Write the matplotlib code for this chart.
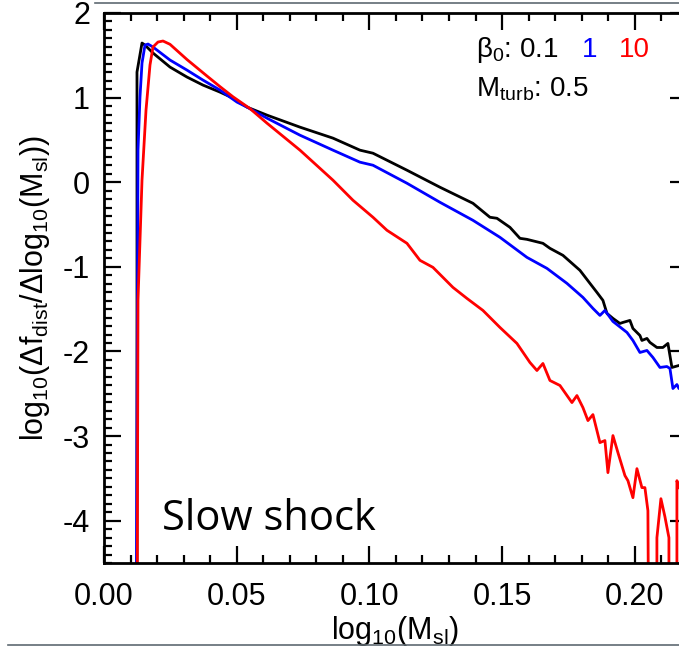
import matplotlib
matplotlib.use("Agg")
import matplotlib.pyplot as plt
from matplotlib.lines import Line2D
from matplotlib.ticker import MultipleLocator

plt.rcParams['font.family'] = ['Liberation Sans', 'DejaVu Sans']
plt.rcParams['mathtext.fontset'] = 'custom'
plt.rcParams['mathtext.rm'] = 'Liberation Sans'
plt.rcParams['mathtext.it'] = 'Liberation Sans'
plt.rcParams['mathtext.default'] = 'regular'
plt.rcParams['axes.unicode_minus'] = False

# beta0 = 0.1 (black)
x_b01 = [0.01243, 0.01243, 0.01432, 0.01545, 0.01846, 0.02487, 0.03127, 0.0373, 0.04371, 0.0486,
         0.05388, 0.06142, 0.07385, 0.08629, 0.09646, 0.10136, 0.11417, 0.1266, 0.13904, 0.14544,
         0.14808, 0.15298, 0.15675, 0.15938, 0.16541, 0.16805, 0.17295, 0.17935, 0.18312, 0.18576,
         0.18802, 0.18953, 0.19179, 0.19442, 0.19556, 0.19819, 0.19932, 0.20196, 0.20271, 0.2046,
         0.20573, 0.20836, 0.21062, 0.21251, 0.21402, 0.21665, 0.2197]
y_b01 = [-6.0, 1.302, 1.645, 1.621, 1.527, 1.361, 1.243, 1.148, 1.065, 0.994,
         0.888, 0.793, 0.651, 0.521, 0.379, 0.343, 0.142, -0.059, -0.249, -0.414,
         -0.426, -0.533, -0.663, -0.675, -0.722, -0.781, -0.864, -1.041, -1.195, -1.302,
         -1.396, -1.550, -1.609, -1.669, -1.657, -1.633, -1.728, -1.811, -1.870, -1.846,
         -1.893, -1.953, -1.953, -1.905, -2.189, -2.166, -2.17]

# beta0 = 1 (blue)
x_b1 = [0.01206, 0.01281, 0.01356, 0.01432, 0.01545, 0.01658, 0.01846, 0.02487, 0.03127, 0.0373,
        0.04371, 0.05011, 0.05388, 0.06142, 0.07385, 0.08629, 0.09646, 0.10136, 0.11417, 0.1266,
        0.13904, 0.14921, 0.15938, 0.16692, 0.17445, 0.18048, 0.18425, 0.18689, 0.18877, 0.19179,
        0.19707, 0.19932, 0.20196, 0.2046, 0.20686, 0.2095, 0.21213, 0.21327, 0.2144, 0.2159,
        0.21665, 0.2197]
y_b1 = [-6.0, 0.379, 1.006, 1.408, 1.621, 1.633, 1.598, 1.444, 1.325, 1.207,
        1.089, 0.947, 0.888, 0.757, 0.556, 0.379, 0.237, 0.201, -0.012, -0.237,
        -0.450, -0.651, -0.888, -1.018, -1.195, -1.361, -1.491, -1.574, -1.515, -1.645,
        -1.775, -1.870, -2.012, -1.988, -2.071, -2.189, -2.178, -2.201, -2.438, -2.391,
        -2.438, -2.44]

# beta0 = 10 (red)
x_b10 = [0.01243, 0.01281, 0.01432, 0.01583, 0.01733, 0.01846, 0.02035, 0.02223, 0.02487, 0.03127,
         0.03881, 0.04371, 0.0486, 0.05501, 0.06142, 0.07385, 0.08629, 0.09382, 0.10136, 0.10663,
         0.11417, 0.11907, 0.12396, 0.1315, 0.13677, 0.1428, 0.14921, 0.15561, 0.16051, 0.16315,
         0.16541, 0.16805, 0.17182, 0.17634, 0.17822, 0.18048, 0.18237, 0.18425, 0.18689, 0.18877,
         0.1899, 0.19179, 0.19367, 0.19631, 0.19744, 0.19932, 0.20083, 0.20271, 0.20384, 0.20497,
         0.20535, 0.20836, 0.20836, 0.20987, 0.21138, 0.21289, 0.21289, 0.2159, 0.2159, 0.21665]
y_b10 = [-6.0, -1.396, 0.024, 0.852, 1.385, 1.598, 1.657, 1.669, 1.630, 1.450,
         1.255, 1.130, 1.010, 0.870, 0.698, 0.379, 0.024, -0.213, -0.414, -0.568,
         -0.722, -0.923, -1.006, -1.243, -1.373, -1.515, -1.716, -1.905, -2.130, -2.225,
         -2.142, -2.343, -2.402, -2.604, -2.521, -2.663, -2.817, -2.746, -3.077, -3.053,
         -3.432, -2.994, -3.195, -3.467, -3.527, -3.728, -3.385, -3.609, -3.609, -3.882,
         -6.0, -6.0, -4.201, -3.740, -3.953, -4.201, -6.0, -6.0, -3.527, -3.609]

xticks = [0.00, 0.05, 0.10, 0.15, 0.20]
xticklabels = ['0.00', '0.05', '0.10', '0.15', '0.20']
yticks = [-4, -3, -2, -1, 0, 1, 2]
yticklabels = ['-4', '-3', '-2', '-1', '0', '1', '2']

W, H = 679, 653
fig = plt.figure(figsize=(W / 100, H / 100), dpi=100)
ax = fig.add_axes([104 / W, 90 / H, 583 / W, 550 / H])

ax.plot(x_b01, y_b01, color='black', lw=2.0)
ax.plot(x_b1, y_b1, color='#0000ff', lw=2.0)
ax.plot(x_b10, y_b10, color='#ff0000', lw=2.0)

ax.set_xlim(0.0, 0.2197)
ax.set_ylim(-4.5, 2.0)
ax.set_xticks(xticks)
ax.set_xticklabels(xticklabels)
ax.set_yticks(yticks)
ax.set_yticklabels(yticklabels)
ax.xaxis.set_minor_locator(MultipleLocator(0.01))
ax.yaxis.set_minor_locator(MultipleLocator(0.1))
ax.tick_params(which='both', direction='in', top=True, right=True, width=1.6, color='black')
ax.tick_params(which='major', length=12, labelsize=22, pad=10)
ax.tick_params(which='minor', length=6)
ax.tick_params(axis='x', which='major', pad=14)
for s in ax.spines.values():
    s.set_linewidth(2.0)

ax.set_xlabel(r'log$_{10}$(M$_{sl}$)', fontsize=22, labelpad=1)
ax.set_ylabel(r'log$_{10}$($\Delta$f$_{dist}$/$\Delta$log$_{10}$(M$_{sl}$))', fontsize=22, labelpad=8)

ax.text(0.638, 0.933, r'$\beta_0$: 0.1', transform=ax.transAxes, fontsize=20, va='center', ha='left', color='black')
ax.text(0.820, 0.933, '1', transform=ax.transAxes, fontsize=20, va='center', ha='left', color='#0000ff')
ax.text(0.883, 0.933, '10', transform=ax.transAxes, fontsize=20, va='center', ha='left', color='#ff0000')
ax.text(0.638, 0.862, r'M$_{turb}$: 0.5', transform=ax.transAxes, fontsize=20, va='center', ha='left', color='black')

ax.text(0.0995, 0.06, 'Slow shock', transform=ax.transAxes, fontsize=30, va='baseline', ha='left',
        family=['Open Sans', 'DejaVu Sans'])

fig.add_artist(Line2D([95 / W, 1.0], [1 - 3 / H, 1 - 3 / H], transform=fig.transFigure, color='#5f6a72', lw=1.2))
fig.add_artist(Line2D([8 / W, 1.0], [1 - 645 / H, 1 - 645 / H], transform=fig.transFigure, color='#5f6a72', lw=1.2))

fig.savefig('out.png', dpi=100)
